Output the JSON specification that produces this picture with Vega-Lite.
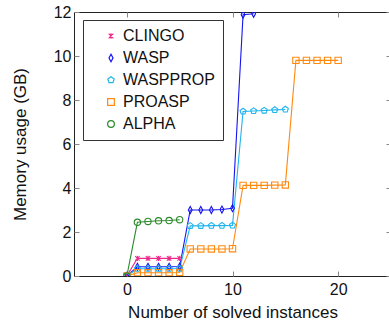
{
  "$schema": "https://vega.github.io/schema/vega-lite/v6.json",
  "autosize": "none",
  "padding": {"left": 74, "top": 12, "right": 0, "bottom": 45},
  "width": 317,
  "height": 264,
  "background": "white",
  "config": {
    "font": "Liberation Sans",
    "view": {"stroke": "#222", "strokeWidth": 1},
    "axis": {"grid": false, "domain": false, "tickSize": -5, "tickColor": "#888", "labelFontSize": 16, "titleFontSize": 17, "titleFontWeight": "normal", "labelColor": "#111", "titleColor": "#111", "labelFont": "Liberation Sans", "titleFont": "Liberation Sans"},
    "legend": {"title": null, "orient": "none", "legendX": 9, "legendY": 8, "strokeColor": "#333", "padding": 8, "labelFontSize": 16, "labelFont": "Liberation Sans", "labelColor": "#111", "symbolSize": 45, "symbolStrokeWidth": 1.2, "rowPadding": 6, "labelAlign": "left", "labelOffset": 4, "symbolOffset": 12, "labelLimit": 200}
  },
  "data": {"values": [
    {"solver": "CLINGO", "x": 0, "mem": 0},
    {"solver": "CLINGO", "x": 1, "mem": 0.8},
    {"solver": "CLINGO", "x": 2, "mem": 0.8},
    {"solver": "CLINGO", "x": 3, "mem": 0.8},
    {"solver": "CLINGO", "x": 4, "mem": 0.8},
    {"solver": "CLINGO", "x": 5, "mem": 0.8},
    {"solver": "WASP", "x": 0, "mem": 0},
    {"solver": "WASP", "x": 1, "mem": 0.42},
    {"solver": "WASP", "x": 2, "mem": 0.42},
    {"solver": "WASP", "x": 3, "mem": 0.42},
    {"solver": "WASP", "x": 4, "mem": 0.42},
    {"solver": "WASP", "x": 5, "mem": 0.43},
    {"solver": "WASP", "x": 6, "mem": 3.0},
    {"solver": "WASP", "x": 7, "mem": 3.0},
    {"solver": "WASP", "x": 8, "mem": 3.0},
    {"solver": "WASP", "x": 9, "mem": 3.02},
    {"solver": "WASP", "x": 10, "mem": 3.08},
    {"solver": "WASP", "x": 11, "mem": 11.88},
    {"solver": "WASP", "x": 12, "mem": 11.92},
    {"solver": "WASPPROP", "x": 0, "mem": 0},
    {"solver": "WASPPROP", "x": 1, "mem": 0.33},
    {"solver": "WASPPROP", "x": 2, "mem": 0.33},
    {"solver": "WASPPROP", "x": 3, "mem": 0.33},
    {"solver": "WASPPROP", "x": 4, "mem": 0.33},
    {"solver": "WASPPROP", "x": 5, "mem": 0.34},
    {"solver": "WASPPROP", "x": 6, "mem": 2.28},
    {"solver": "WASPPROP", "x": 7, "mem": 2.28},
    {"solver": "WASPPROP", "x": 8, "mem": 2.29},
    {"solver": "WASPPROP", "x": 9, "mem": 2.29},
    {"solver": "WASPPROP", "x": 10, "mem": 2.3},
    {"solver": "WASPPROP", "x": 11, "mem": 7.48},
    {"solver": "WASPPROP", "x": 12, "mem": 7.5},
    {"solver": "WASPPROP", "x": 13, "mem": 7.52},
    {"solver": "WASPPROP", "x": 14, "mem": 7.55},
    {"solver": "WASPPROP", "x": 15, "mem": 7.57},
    {"solver": "PROASP", "x": 0, "mem": 0},
    {"solver": "PROASP", "x": 1, "mem": 0.15},
    {"solver": "PROASP", "x": 2, "mem": 0.15},
    {"solver": "PROASP", "x": 3, "mem": 0.15},
    {"solver": "PROASP", "x": 4, "mem": 0.15},
    {"solver": "PROASP", "x": 5, "mem": 0.16},
    {"solver": "PROASP", "x": 6, "mem": 1.23},
    {"solver": "PROASP", "x": 7, "mem": 1.23},
    {"solver": "PROASP", "x": 8, "mem": 1.23},
    {"solver": "PROASP", "x": 9, "mem": 1.23},
    {"solver": "PROASP", "x": 10, "mem": 1.24},
    {"solver": "PROASP", "x": 11, "mem": 4.12},
    {"solver": "PROASP", "x": 12, "mem": 4.12},
    {"solver": "PROASP", "x": 13, "mem": 4.12},
    {"solver": "PROASP", "x": 14, "mem": 4.13},
    {"solver": "PROASP", "x": 15, "mem": 4.14},
    {"solver": "PROASP", "x": 16, "mem": 9.8},
    {"solver": "PROASP", "x": 17, "mem": 9.8},
    {"solver": "PROASP", "x": 18, "mem": 9.8},
    {"solver": "PROASP", "x": 19, "mem": 9.8},
    {"solver": "PROASP", "x": 20, "mem": 9.8},
    {"solver": "ALPHA", "x": 0, "mem": 0},
    {"solver": "ALPHA", "x": 1, "mem": 2.44},
    {"solver": "ALPHA", "x": 2, "mem": 2.48},
    {"solver": "ALPHA", "x": 3, "mem": 2.51},
    {"solver": "ALPHA", "x": 4, "mem": 2.52},
    {"solver": "ALPHA", "x": 5, "mem": 2.56}
  ]},
  "layer": [
    {
      "mark": {"type": "line", "strokeWidth": 1.1, "clip": true},
      "encoding": {
        "x": {"field": "x", "type": "quantitative", "scale": {"domain": [-5, 25], "nice": false}, "axis": {"values": [0, 10, 20], "title": "Number of solved instances", "titlePadding": 7, "labelPadding": 10}},
        "y": {"field": "mem", "type": "quantitative", "scale": {"domain": [0, 12], "nice": false}, "axis": {"values": [0, 2, 4, 6, 8, 10, 12], "title": "Memory usage (GB)", "titlePadding": 24, "labelPadding": 8}},
        "color": {"field": "solver", "type": "nominal", "scale": {"domain": ["CLINGO", "WASP", "WASPPROP", "PROASP", "ALPHA"], "range": ["#ec2a8c", "#1414f0", "#22b4ec", "#ff8a10", "#2a8a2a"]}},
        "detail": {"field": "solver"}
      }
    },
    {
      "mark": {"type": "point", "filled": false, "strokeWidth": 1.1, "opacity": 1, "clip": true},
      "encoding": {
        "x": {"field": "x", "type": "quantitative", "axis": null},
        "y": {"field": "mem", "type": "quantitative", "axis": null},
        "color": {"field": "solver", "type": "nominal"},
        "shape": {"field": "solver", "type": "nominal", "scale": {"domain": ["CLINGO", "WASP", "WASPPROP", "PROASP", "ALPHA"], "range": ["M-0.7,-0.7L0.7,0.7M0.7,-0.7L-0.7,0.7M0,-0.8L0,0.8", "M0,-1.1L0.6,0L0,1.1L-0.6,0Z", "M0,-1L0.951,-0.309L0.588,0.809L-0.588,0.809L-0.951,-0.309Z", "square", "circle"]}},
        "size": {"value": 40}
      }
    },
    {
      "mark": {"type": "point", "opacity": 0},
      "encoding": {
        "x": {"field": "x", "type": "quantitative", "axis": {"orient": "top", "values": [0, 10, 20], "labels": false, "title": null}},
        "y": {"field": "mem", "type": "quantitative", "axis": {"orient": "right", "values": [0, 2, 4, 6, 8, 10, 12], "labels": false, "title": null}}
      }
    }
  ],
  "resolve": {"axis": {"x": "independent", "y": "independent"}}
}
